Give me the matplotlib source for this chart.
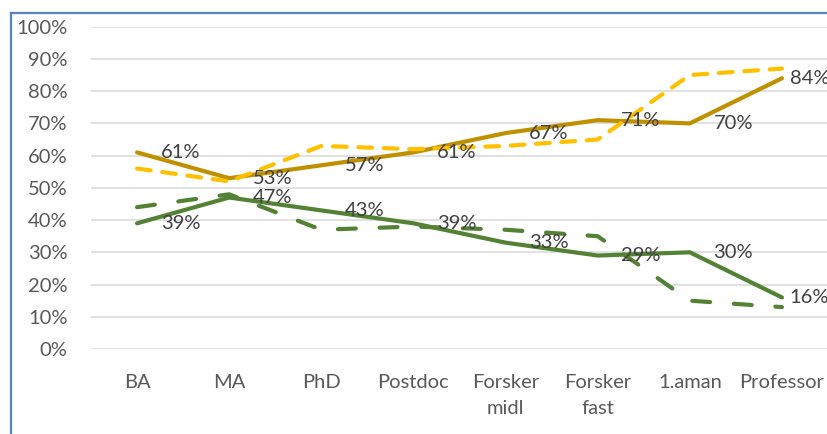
import numpy as np
import matplotlib
matplotlib.use("Agg")
import matplotlib.pyplot as plt
from matplotlib.lines import Line2D

plt.rcParams['font.family'] = ['Lato', 'DejaVu Sans']

categories = ["BA", "MA", "PhD", "Postdoc", "Forsker\nmidl", "Forsker\nfast", "1.aman", "Professor"]
gold_solid = [0.61, 0.53, 0.57, 0.61, 0.67, 0.71, 0.70, 0.84]
green_solid = [0.39, 0.47, 0.43, 0.39, 0.33, 0.29, 0.30, 0.16]
yellow_dashed = [0.56, 0.52, 0.63, 0.62, 0.63, 0.65, 0.85, 0.87]
green_dashed = [0.44, 0.48, 0.37, 0.38, 0.37, 0.35, 0.15, 0.13]

GOLD = "#BF9000"
YELLOW = "#FFC000"
GREEN = "#548235"
LABEL = "#404040"
TICK = "#595959"
FS = 14.5

fig = plt.figure(figsize=(8.28, 4.34), dpi=100)
ax = fig.add_axes([91 / 828, 85 / 434, 737 / 828, 322.3 / 434])

x = np.arange(len(categories))
lw = 3.0

ax.plot(x, gold_solid, color=GOLD, lw=lw, solid_capstyle="round", solid_joinstyle="round", zorder=3)
ax.plot(x, green_solid, color=GREEN, lw=lw, solid_capstyle="round", solid_joinstyle="round", zorder=3)
ax.plot(x, yellow_dashed, color=YELLOW, lw=lw, dashes=(3.3, 2.8), dash_capstyle="round",
        dash_joinstyle="round", zorder=4)
ax.plot(x, green_dashed, color=GREEN, lw=lw, dashes=(4.3, 5.7), dash_capstyle="round",
        dash_joinstyle="round", zorder=4)

# data labels to the right of the solid-line points; last ones nudged in to fit
for series in (gold_solid, green_solid):
    for xi, v in zip(x, series):
        dx = 5.5 if xi == x[-1] else 17
        ax.annotate(f"{round(v * 100)}%", (xi, v), xytext=(dx, 0), textcoords="offset points",
                    ha="left", va="center", fontsize=FS, color=LABEL, zorder=6,
                    annotation_clip=False)

ax.set_xlim(-0.5, len(categories) - 0.5)
ax.set_ylim(0, 1)
ax.set_yticks(np.arange(0, 1.01, 0.1))
ax.set_yticklabels([f"{int(round(t * 100))}%" for t in np.arange(0, 1.01, 0.1)])
ax.set_xticks(x)
ax.set_xticklabels(categories, linespacing=1.62)
ax.tick_params(axis="both", length=0, labelsize=FS, colors=TICK)
ax.tick_params(axis="y", pad=17)
ax.tick_params(axis="x", pad=18)

ax.grid(axis="y", color="#D9D9D9", lw=1.1)
ax.set_axisbelow(True)
for s in ax.spines.values():
    s.set_visible(False)

# chart frame (only left and top edges visible in the crop)
fig.add_artist(Line2D([10.5 / 828, 10.5 / 828], [0, 1 - 12.5 / 434], transform=fig.transFigure,
                      color="#5585C5", lw=1.6))
fig.add_artist(Line2D([10.5 / 828, 1], [1 - 12.5 / 434, 1 - 12.5 / 434], transform=fig.transFigure,
                      color="#5585C5", lw=1.6))

fig.savefig("out.png", dpi=100)
